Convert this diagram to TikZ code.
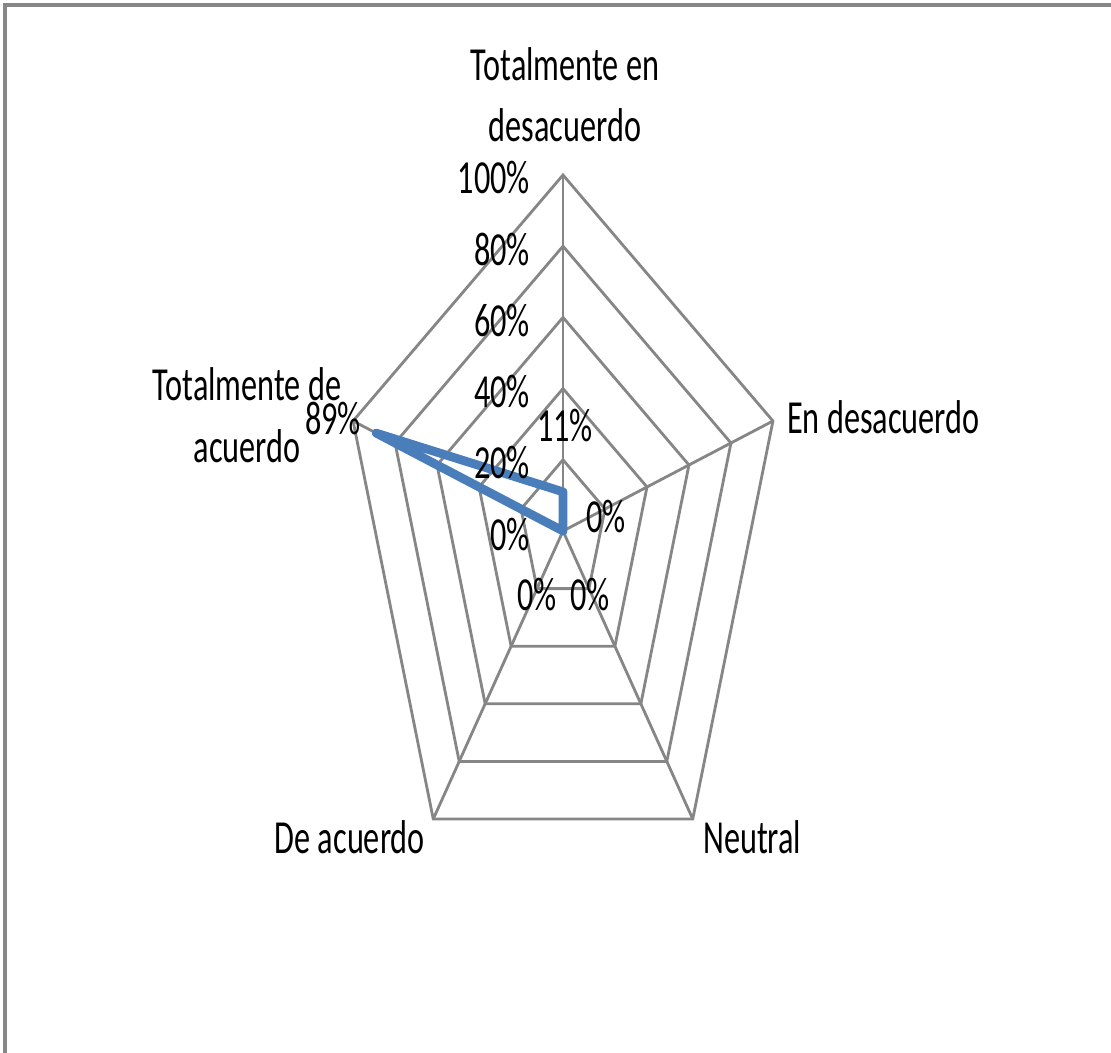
\documentclass[tikz,border=0pt]{standalone}
\usepackage{fontspec}
\setmainfont{Carlito}
\definecolor{gridgray}{HTML}{868686}
\definecolor{serieblue}{HTML}{4A7EBB}
\tikzset{
  grid line/.style={draw=gridgray, line width=1.6pt},
  serie/.style={draw=serieblue, line width=5pt, line join=round},
  lbl/.style={font=\fontsize{27}{35}\selectfont, inner sep=0pt, xscale=0.68, align=center},
}

\begin{document}
\begin{tikzpicture}[x=0.02cm, y=-0.02cm]
  \useasboundingbox (0,0) rectangle (1111,1053);
  \clip (0,0) rectangle (1111,1053);
  \draw[gridgray, line width=2.2pt] (4.7,4.7) rectangle (1130,1080);

  % radar grid
  \begin{scope}[shift={(563,531)}, xscale=0.62, yscale=-1]
    \foreach \k in {0,...,4}{
      \foreach \l in {0,...,5}
        \coordinate (v\k-\l) at ({90-72*\k}:{71.2*\l});
      \draw[grid line] (v\k-0) -- (v\k-5);
    }
    \foreach \l in {1,...,5}
      \draw[grid line] (v0-\l) -- (v1-\l) -- (v2-\l) -- (v3-\l) -- (v4-\l) -- cycle;
    % series
    \coordinate (d0) at (90:{356*0.11});
    \coordinate (d4) at (162:{356*0.89});
    \draw[serie] (d0) -- (v1-0) -- (v2-0) -- (v3-0) -- (d4) -- cycle;
  \end{scope}

  % axis ticks
  \foreach \l [evaluate=\l as \p using int(20*\l)] in {0,...,5}
    \node[lbl, anchor=base east] (tick\l) at (530, {550-71.2*\l}) {\p\%};

  % data labels
  \node[lbl, anchor=base] (val0) at (565,442) {11\%};
  \node[lbl, anchor=base] (val1) at (606,532) {0\%};
  \node[lbl, anchor=base] (val2) at (590,610) {0\%};
  \node[lbl, anchor=base] (val3) at (537,610) {0\%};
  \node[lbl, anchor=base] (val4) at (333,435) {89\%};

  % categories
  \node[lbl, anchor=base] (cat0) at (565,142) {Totalmente en\\desacuerdo};
  \node[lbl, anchor=base west] (cat1) at (787,434) {En desacuerdo};
  \node[lbl, anchor=base west] (cat2) at (703,853) {Neutral};
  \node[lbl, anchor=base east] (cat3) at (425,853) {De acuerdo};
  \node[lbl, anchor=base] (cat4) at (247,462) {Totalmente de\\acuerdo};
\end{tikzpicture}
\end{document}
